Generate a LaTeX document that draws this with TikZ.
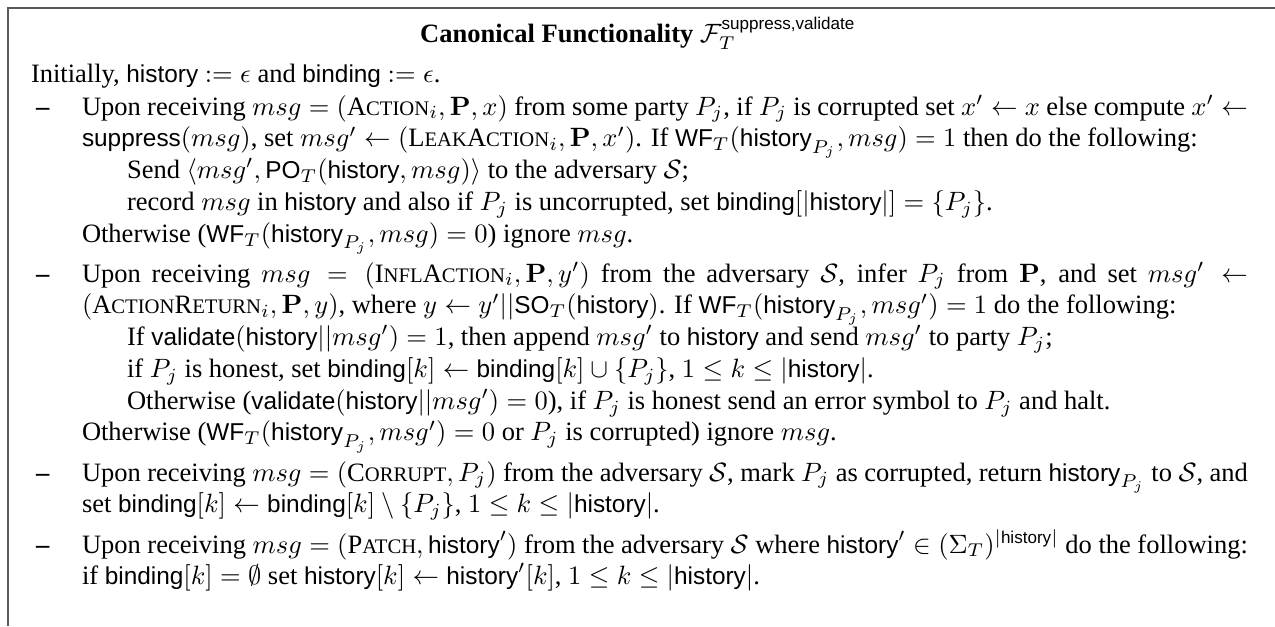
\documentclass[tikz,border=0pt]{standalone}
\usepackage{amsmath}
\usepackage[no-math]{fontspec}
\setmainfont{Liberation Serif}
\setsansfont[Scale=0.92]{Liberation Sans}
\newcommand{\hs}[1]{\text{\sffamily #1}}
\newcommand{\fsc}[2]{#1{\fontsize{7.8pt}{9pt}\selectfont #2}}
\newlength{\indnt}\setlength{\indnt}{17pt}
\definecolor{framegray}{RGB}{90,90,90}
\begin{document}
\begin{tikzpicture}[x=0.3774pt,y={(0pt,-0.3774pt)},
  txt/.style={inner sep=0pt, outer sep=0pt, anchor=base west, font=\fontsize{10pt}{12pt}\selectfont},
  dashmark/.style={txt, font=\fontsize{10pt}{12pt}\selectfont\bfseries},
  frameline/.style={draw=framegray, line width=0.75pt}]
\useasboundingbox (0,0) rectangle (1275,626);
\coordinate (fbl) at (8,626);
\coordinate (ftl) at (8,8);
\coordinate (ftr) at (1275,8);
\draw[frameline] (fbl) -- (ftl) -- (ftr);

\node[txt, anchor=base] (title) at (638,42) {\textbf{Canonical Functionality} $\mathcal{F}_T^{\hs{suppress,validate}}$};
\node[txt] (init) at (31,82) {Initially, \hs{history} $:=\epsilon$ and \hs{binding} $:=\epsilon$.};

\node[dashmark] (d1) at (36,115) {\textendash};
\node[txt] (b1) at (82,115) {\parbox[t]{440pt}{%
Upon receiving $msg = (\text{\fsc{A}{CTION}}_i, \mathbf{P}, x)$ from some party $P_j$, if $P_j$ is corrupted set $x' \gets x$ else compute $x' \gets$\linebreak
\hs{suppress}$(msg)$, set $msg' \gets (\text{\fsc{L}{EAK}\fsc{A}{CTION}}_i, \mathbf{P}, x')$. If $\hs{WF}_T(\hs{history}_{P_j}, msg) = 1$ then do the following:\newline
\hspace*{\indnt}Send $\langle msg', \hs{PO}_T(\hs{history}, msg)\rangle$ to the adversary $\mathcal{S}$;\newline
\hspace*{\indnt}record $msg$ in \hs{history} and also if $P_j$ is uncorrupted, set $\hs{binding}[|\hs{history}|] = \{P_j\}$.\newline
Otherwise ($\hs{WF}_T(\hs{history}_{P_j}, msg) = 0$) ignore $msg$.}};

\node[dashmark] (d2) at (36,282) {\textendash};
\node[txt] (b2) at (82,282) {\parbox[t]{440pt}{%
Upon receiving $msg = (\text{\fsc{I}{NFL}\fsc{A}{CTION}}_i, \mathbf{P}, y')$ from the adversary $\mathcal{S}$, infer $P_j$ from $\mathbf{P}$, and set $msg' \gets$\linebreak
$(\text{\fsc{A}{CTION}\fsc{R}{ETURN}}_i, \mathbf{P}, y)$, where $y \gets y'||\hs{SO}_T(\hs{history})$. If $\hs{WF}_T(\hs{history}_{P_j}, msg') = 1$ do the following:\newline
\hspace*{\indnt}If $\hs{validate}(\hs{history}||msg') = 1$, then append $msg'$ to \hs{history} and send $msg'$ to party $P_j$;\newline
\hspace*{\indnt}if $P_j$ is honest, set $\hs{binding}[k] \gets \hs{binding}[k] \cup \{P_j\}$, $1 \le k \le |\hs{history}|$.\newline
\hspace*{\indnt}Otherwise ($\hs{validate}(\hs{history}||msg') = 0$), if $P_j$ is honest send an error symbol to $P_j$ and halt.\newline
Otherwise ($\hs{WF}_T(\hs{history}_{P_j}, msg') = 0$ or $P_j$ is corrupted) ignore $msg$.}};

\node[dashmark] (d3) at (36,481) {\textendash};
\node[txt] (b3) at (82,481) {\parbox[t]{440pt}{%
Upon receiving $msg = (\text{\fsc{C}{ORRUPT}}, P_j)$ from the adversary $\mathcal{S}$, mark $P_j$ as corrupted, return $\hs{history}_{P_j}$ to $\mathcal{S}$, and\linebreak
set $\hs{binding}[k] \gets \hs{binding}[k] \setminus \{P_j\}$, $1 \le k \le |\hs{history}|$.}};

\node[dashmark] (d4) at (36,553) {\textendash};
\node[txt] (b4) at (82,553) {\parbox[t]{440pt}{%
Upon receiving $msg = (\text{\fsc{P}{ATCH}}, \hs{history}')$ from the adversary $\mathcal{S}$ where $\hs{history}' \in (\Sigma_T)^{|\hs{history}|}$ do the following:\linebreak
if $\hs{binding}[k] = \emptyset$ set $\hs{history}[k] \gets \hs{history}'[k]$, $1 \le k \le |\hs{history}|$.}};
\end{tikzpicture}
\end{document}
